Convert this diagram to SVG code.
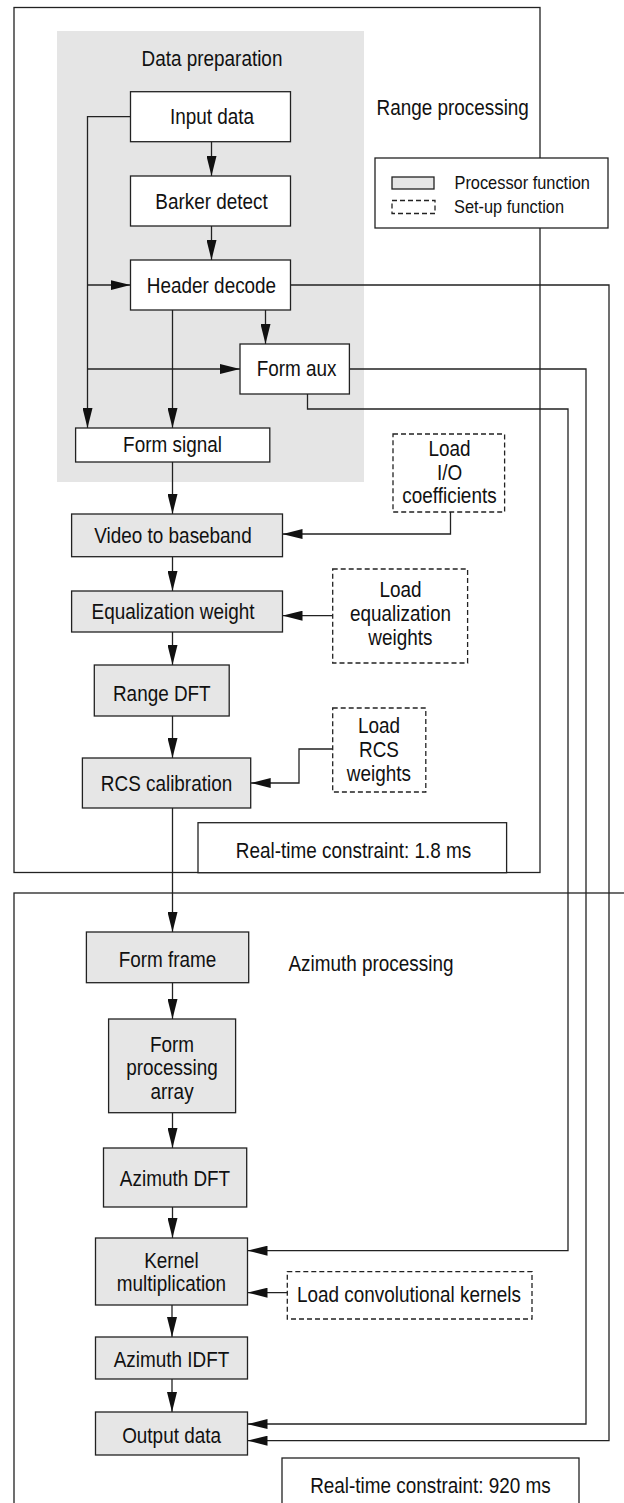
<svg xmlns="http://www.w3.org/2000/svg" width="624" height="1503" viewBox="0 0 624 1503">
  <style>
    .frame { fill: #ffffff; stroke: #222; stroke-width: 1.3; }
    .proc { fill: #e6e6e6; stroke: #222; stroke-width: 1.3; }
    .plain { fill: #ffffff; stroke: #222; stroke-width: 1.3; }
    .setup { fill: #ffffff; stroke: #222; stroke-width: 1.3; stroke-dasharray: 5 3; }
    .region { fill: #e5e5e5; stroke: none; }
    .arrow { fill: none; stroke: #222; stroke-width: 1.3; marker-end: url(#head); }
    /* condensed look: narrow each label around its own centre */
    text { font-family: "Liberation Sans", Arial, sans-serif; font-size: 22px; fill: #111; text-anchor: middle;
           transform-box: fill-box; transform-origin: center; transform: scaleX(0.86); }
    .left { text-anchor: start; transform-origin: left center; }
    .legend { font-size: 18px; text-anchor: start; transform-origin: left center; transform: scaleX(0.91); }
  </style>
  <defs>
    <marker id="head" markerUnits="userSpaceOnUse" markerWidth="20" markerHeight="10" refX="20" refY="5" orient="auto">
      <path d="M0,0 L20,5 L0,10 z" fill="#111"/>
    </marker>
  </defs>

  <!-- processing stage frames -->
  <g id="range-processing">
    <rect class="frame" x="14" y="7.5" width="526" height="865"/>
    <text class="left" x="376.5" y="115">Range processing</text>
  </g>
  <g id="azimuth-processing">
    <rect class="frame" x="14" y="893" width="620" height="620"/>
    <text class="left" x="288.5" y="971">Azimuth processing</text>
  </g>
  <g id="data-preparation">
    <rect class="region" x="57" y="31" width="307" height="451"/>
    <text x="212" y="66.5">Data preparation</text>
  </g>

  <!-- connectors -->
  <g id="connectors">
    <polyline class="arrow" points="130.5,116.7 87.5,116.7 87.5,428"/>
    <line class="arrow" x1="87.5" y1="285" x2="130.5" y2="285"/>
    <line class="arrow" x1="87.5" y1="369" x2="240" y2="369"/>
    <line class="arrow" x1="211.5" y1="141.7" x2="211.5" y2="176"/>
    <line class="arrow" x1="211.5" y1="226" x2="211.5" y2="260"/>
    <line class="arrow" x1="172.5" y1="310" x2="172.5" y2="428"/>
    <line class="arrow" x1="265.5" y1="310" x2="265.5" y2="344"/>
    <polyline class="arrow" points="290.5,285 609,285 609,1440.7 247.5,1440.7"/>
    <polyline class="arrow" points="349.5,369 586,369 586,1424 247.5,1424"/>
    <polyline class="arrow" points="307.5,394 307.5,409 568,409 568,1250.7 247.5,1250.7"/>
    <line class="arrow" x1="172.5" y1="462" x2="172.5" y2="514"/>
    <polyline class="arrow" points="450.5,512 450.5,534 282.5,534"/>
    <line class="arrow" x1="172.5" y1="557" x2="172.5" y2="591"/>
    <line class="arrow" x1="332.7" y1="615.7" x2="282.5" y2="615.7"/>
    <line class="arrow" x1="172.5" y1="632" x2="172.5" y2="665"/>
    <line class="arrow" x1="172.5" y1="716" x2="172.5" y2="758"/>
    <polyline class="arrow" points="332.7,749 299,749 299,783 250.7,783"/>
    <line class="arrow" x1="172.5" y1="808" x2="172.5" y2="932"/>
    <line class="arrow" x1="172.5" y1="983" x2="172.5" y2="1019"/>
    <line class="arrow" x1="172.5" y1="1113" x2="172.5" y2="1148"/>
    <line class="arrow" x1="172.5" y1="1207" x2="172.5" y2="1238"/>
    <line class="arrow" x1="287.3" y1="1292.7" x2="247.5" y2="1292.7"/>
    <line class="arrow" x1="172" y1="1305" x2="172" y2="1337"/>
    <line class="arrow" x1="172" y1="1379" x2="172" y2="1412"/>
  </g>

  <!-- legend -->
  <g id="legend">
    <rect class="plain" x="375" y="158" width="233" height="70"/>
    <rect class="proc" x="392" y="177" width="42" height="12"/>
    <text class="legend" x="454.5" y="189">Processor function</text>
    <rect class="setup" x="392" y="200.5" width="43" height="13"/>
    <text class="legend" x="454" y="213">Set-up function</text>
  </g>

  <!-- data preparation nodes -->
  <g id="input-data">
    <rect class="plain" x="130.5" y="91.7" width="160" height="50"/>
    <text x="212" y="124.5">Input data</text>
  </g>
  <g id="barker-detect">
    <rect class="plain" x="130.5" y="176" width="160" height="50"/>
    <text x="211.5" y="209.5">Barker detect</text>
  </g>
  <g id="header-decode">
    <rect class="plain" x="130.5" y="260" width="160" height="50"/>
    <text x="211.5" y="293">Header decode</text>
  </g>
  <g id="form-aux">
    <rect class="plain" x="240" y="344" width="109.4" height="50"/>
    <text x="296.5" y="376.5">Form aux</text>
  </g>
  <g id="form-signal">
    <rect class="plain" x="75.6" y="428" width="194.2" height="34"/>
    <text x="172.5" y="452">Form signal</text>
  </g>

  <!-- range processing nodes -->
  <g id="video-to-baseband">
    <rect class="proc" x="71.6" y="514" width="210.9" height="42.7"/>
    <text x="173" y="543">Video to baseband</text>
  </g>
  <g id="load-io-coefficients">
    <rect class="setup" x="393" y="434" width="111.6" height="78"/>
    <text x="449.5" y="456">Load</text>
    <text x="449.5" y="480">I/O</text>
    <text x="449.5" y="503.5">coefficients</text>
  </g>
  <g id="equalization-weight">
    <rect class="proc" x="71.6" y="591" width="210.9" height="41"/>
    <text x="173" y="619.5">Equalization weight</text>
  </g>
  <g id="load-equalization-weights">
    <rect class="setup" x="332.7" y="569" width="134.9" height="94"/>
    <text x="400.5" y="597">Load</text>
    <text x="400.5" y="621">equalization</text>
    <text x="400.5" y="645">weights</text>
  </g>
  <g id="range-dft">
    <rect class="proc" x="94.3" y="665" width="134.9" height="51"/>
    <text x="161.8" y="701">Range DFT</text>
  </g>
  <g id="load-rcs-weights">
    <rect class="setup" x="332.7" y="708" width="93.1" height="84"/>
    <text x="379" y="733.5">Load</text>
    <text x="379" y="757.5">RCS</text>
    <text x="379" y="781.5">weights</text>
  </g>
  <g id="rcs-calibration">
    <rect class="proc" x="82.4" y="758" width="168.3" height="50"/>
    <text x="166.5" y="791">RCS calibration</text>
  </g>
  <g id="range-constraint">
    <rect class="plain" x="198" y="822.7" width="308.6" height="50"/>
    <text x="353.5" y="858.5">Real-time constraint: 1.8 ms</text>
  </g>

  <!-- azimuth processing nodes -->
  <g id="form-frame">
    <rect class="proc" x="86.4" y="932" width="162.3" height="50.7"/>
    <text x="167.5" y="967.5">Form frame</text>
  </g>
  <g id="form-processing-array">
    <rect class="proc" x="108.6" y="1019" width="127" height="93.7"/>
    <text x="172" y="1051.7">Form</text>
    <text x="172" y="1075.5">processing</text>
    <text x="172" y="1099.3">array</text>
  </g>
  <g id="azimuth-dft">
    <rect class="proc" x="103.5" y="1148" width="143.2" height="59"/>
    <text x="175" y="1186">Azimuth DFT</text>
  </g>
  <g id="kernel-multiplication">
    <rect class="proc" x="95.5" y="1238" width="152" height="67"/>
    <text x="171.5" y="1268.3">Kernel</text>
    <text x="171.5" y="1291.5">multiplication</text>
  </g>
  <g id="load-convolutional-kernels">
    <rect class="setup" x="287.3" y="1271.7" width="244.7" height="47.3"/>
    <text x="409" y="1302">Load convolutional kernels</text>
  </g>
  <g id="azimuth-idft">
    <rect class="proc" x="95.5" y="1337" width="152" height="42"/>
    <text x="171.5" y="1367.5">Azimuth IDFT</text>
  </g>
  <g id="output-data">
    <rect class="proc" x="95.5" y="1412" width="152" height="43"/>
    <text x="171.5" y="1443.5">Output data</text>
  </g>
  <g id="azimuth-constraint">
    <rect class="plain" x="282" y="1458" width="297" height="60"/>
    <text x="430.5" y="1493.5">Real-time constraint: 920 ms</text>
  </g>
</svg>
